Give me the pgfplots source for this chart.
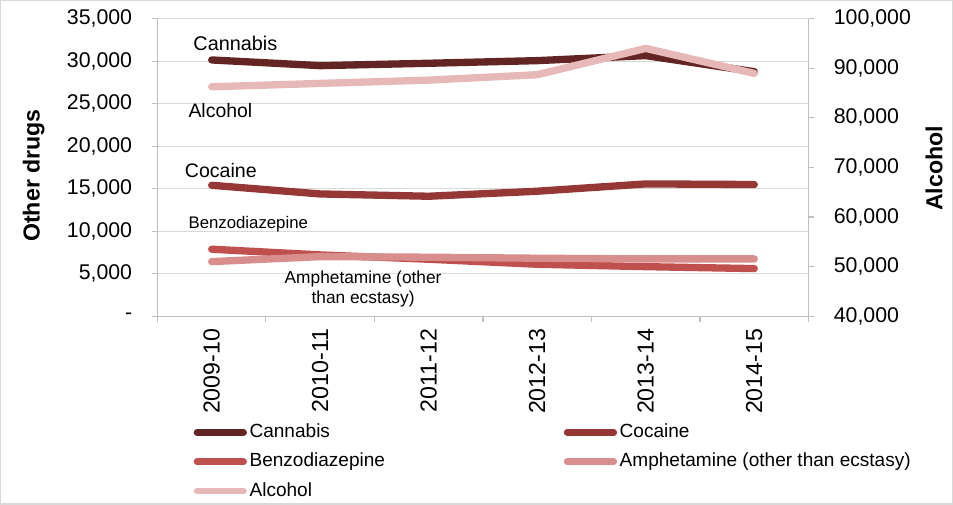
\documentclass[border=0pt]{standalone}
\usepackage{pgfplots}
\pgfplotsset{compat=1.18}
\usepackage{fontspec}
\setmainfont{Liberation Sans}

\definecolor{cannabis}{HTML}{632523}
\definecolor{cocaine}{HTML}{953735}
\definecolor{benzo}{HTML}{C0504D}
\definecolor{amph}{HTML}{D78E8C}
\definecolor{alcohol}{HTML}{E6B9B8}
\definecolor{axisgray}{HTML}{BFBFBF}
\definecolor{gridgray}{HTML}{D9D9D9}

\begin{document}
\begin{tikzpicture}
\pgfplotsset{
  common/.style={
    scale only axis, width=489pt, height=223.5pt,
    at={(117.75pt,141pt)}, anchor=south west,
    xmin=-0.5, xmax=5.5,
    scaled y ticks=false,
    axis line style={axisgray, line width=0.8pt},
    tick style={axisgray, line width=0.8pt},
    tick align=outside, major tick length=4pt,
    ticklabel style={font=\fontsize{16}{19}\selectfont, text=black},
    label style={font=\fontsize{17.4}{20}\selectfont\bfseries},
  },
  series/.style={line width=5.5pt, line join=round, line cap=round},
}
% outer frame
\draw[gridgray, line width=1pt] (0,0) rectangle (714.75pt,378pt);

% primary axis: other drugs
\begin{axis}[common,
  ymin=0, ymax=35000,
  axis y line*=left, axis x line*=bottom,
  ytick={0,5000,...,35000},
  yticklabels={-,{5,000},{10,000},{15,000},{20,000},{25,000},{30,000},{35,000}},
  ymajorgrids, major grid style={gridgray, line width=0.8pt},
  yticklabel style={anchor=east, xshift=-11.5pt},
  xtick={-0.5,0.5,...,5.5}, xticklabels={},
  extra x ticks={0,1,2,3,4,5},
  extra x tick labels={2009-10,2010-11,2011-12,2012-13,2013-14,2014-15},
  extra x tick style={major tick length=0pt, grid=none,
    xticklabel style={rotate=90, anchor=east, xshift=-6pt,
      font=\fontsize{17.4}{20}\selectfont}},
  ylabel={Other drugs},
  ylabel style={at={(axis description cs:-0.19,0.473)}, anchor=center},
]
\addplot[series, cannabis] coordinates {(0,30140) (1,29470) (2,29750) (3,30060) (4,30650) (5,28760)};
\addplot[series, cocaine] coordinates {(0,15400) (1,14380) (2,14110) (3,14700) (4,15560) (5,15490)};
\addplot[series, benzo] coordinates {(0,7880) (1,7210) (2,6700) (3,6110) (4,5830) (5,5600)};
\addplot[series, amph] coordinates {(0,6420) (1,7010) (2,6940) (3,6820) (4,6740) (5,6740)};

% series labels
\node[anchor=base, font=\fontsize{14.9}{17}\selectfont] at (axis cs:0.218,31240) {Cannabis};
\node[anchor=base, font=\fontsize{14.6}{17}\selectfont] at (axis cs:0.08,23372) {Alcohol};
\node[anchor=base, font=\fontsize{14.7}{17}\selectfont] at (axis cs:0.084,16326) {Cocaine};
\node[anchor=base, font=\fontsize{12.6}{15}\selectfont] at (axis cs:0.337,10336) {Benzodiazepine};
\node[anchor=base, font=\fontsize{13}{15}\selectfont] at (axis cs:1.395,3876) {Amphetamine (other};
\node[anchor=base, font=\fontsize{13}{15}\selectfont] at (axis cs:1.395,1527) {than ecstasy)};
\end{axis}

% secondary axis: alcohol
\begin{axis}[common,
  ymin=40000, ymax=100000,
  axis y line*=right, axis x line=none,
  ytick={40000,50000,...,100000},
  yticklabels={{40,000},{50,000},{60,000},{70,000},{80,000},{90,000},{100,000}},
  yticklabel style={anchor=west, xshift=11.5pt},
  ylabel={Alcohol},
  ylabel style={at={(axis description cs:1.193,0.497)}, anchor=center},
  legend columns=2,
  legend cell align=left,
  legend style={at={(axis description cs:0.0552,-0.355)}, anchor=north west,
    draw=none, fill=none, inner sep=0pt, row sep=6.5pt,
    font=\fontsize{14.3}{17}\selectfont,
    nodes={inner sep=1pt, text height=10.5pt, text depth=3pt},
    /tikz/every odd column/.append style={column sep=1pt}},
  legend image code/.code={\draw[#1, line width=5pt, line cap=round] (2.5pt,0pt) -- (37.5pt,0pt);},
]
\addlegendimage{cannabis}
\addlegendentry{\makebox[235pt][l]{Cannabis}}
\addlegendimage{cocaine}
\addlegendentry{Cocaine}
\addlegendimage{benzo}
\addlegendentry{\makebox[235pt][l]{Benzodiazepine}}
\addlegendimage{amph}
\addlegendentry{Amphetamine (other than ecstasy)}
\addplot[series, alcohol] coordinates {(0,86260) (1,86940) (2,87600) (3,88690) (4,94000) (5,88960)};
\addlegendentry{\makebox[235pt][l]{Alcohol}}
\end{axis}
\end{tikzpicture}
\end{document}
